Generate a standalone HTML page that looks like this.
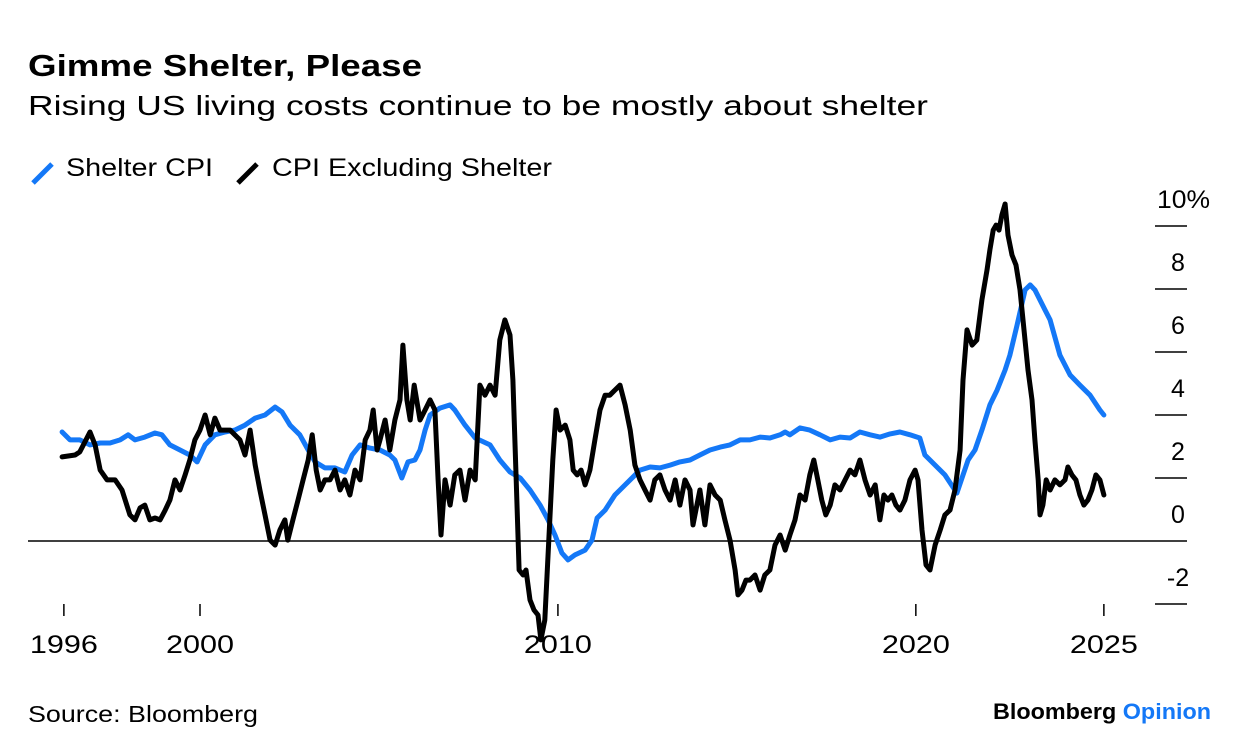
<!DOCTYPE html>
<html><head><meta charset="utf-8">
<style>
body{margin:0;background:#fff;font-family:"Liberation Sans",sans-serif;}
#wrap{position:relative;width:1240px;height:754px;overflow:hidden;}
</style></head>
<body>
<div id="wrap">
<svg id="svg" width="1240" height="754" style="font-family:'Liberation Sans',sans-serif">
<text x="28" y="76" font-size="31" font-weight="bold" fill="#000" textLength="394" lengthAdjust="spacingAndGlyphs">Gimme Shelter, Please</text>
<text x="28" y="115" font-size="28" fill="#000" textLength="900" lengthAdjust="spacingAndGlyphs">Rising US living costs continue to be mostly about shelter</text>
<g>
<line x1="33" y1="183" x2="52" y2="164" stroke="#1478f7" stroke-width="5"/>
<text x="66" y="176" font-size="25" textLength="147" lengthAdjust="spacingAndGlyphs">Shelter CPI</text>
<line x1="238" y1="183" x2="257" y2="164" stroke="#000" stroke-width="5"/>
<text x="272" y="176" font-size="25" textLength="280" lengthAdjust="spacingAndGlyphs">CPI Excluding Shelter</text>
</g>
<g id="axes"></g>
<g id="series"></g>
<text x="28" y="722" font-size="23" textLength="230" lengthAdjust="spacingAndGlyphs">Source: Bloomberg</text>
<text x="993" y="719" font-size="22" font-weight="bold" textLength="218" lengthAdjust="spacingAndGlyphs"><tspan fill="#000">Bloomberg </tspan><tspan fill="#1478f7">Opinion</tspan></text>
</svg>
</div>
<script>
const xTickLabels=["1996","2000","2010","2020","2025"];
const xTickDates=[1996.25,2000.0,2009.86,2019.72,2024.90];
const yTickValues=[-2,0,2,4,6,8,10];
const yTickLabels=["-2","0","2","4","6","8","10%"];
const exShelterYears=[1996.20,1996.56,1996.69,1996.97,1997.11,1997.25,1997.44,1997.66,1997.85,1998.07,1998.21,1998.35,1998.48,1998.62,1998.76,1998.90,1999.04,1999.17,1999.31,1999.45,1999.59,1999.72,1999.86,2000.00,2000.14,2000.28,2000.41,2000.55,2000.83,2001.10,2001.24,2001.38,2001.52,2001.65,2001.79,2001.93,2002.07,2002.20,2002.34,2002.42,2002.56,2002.70,2002.84,2002.98,2003.09,2003.20,2003.31,2003.44,2003.58,2003.72,2003.86,2003.99,2004.13,2004.27,2004.41,2004.55,2004.68,2004.77,2004.88,2004.96,2005.10,2005.23,2005.37,2005.51,2005.59,2005.70,2005.79,2005.90,2006.06,2006.20,2006.34,2006.47,2006.56,2006.64,2006.75,2006.89,2007.02,2007.16,2007.30,2007.44,2007.58,2007.71,2007.85,2007.99,2008.13,2008.26,2008.40,2008.54,2008.62,2008.71,2008.79,2008.90,2008.98,2009.09,2009.20,2009.31,2009.39,2009.50,2009.61,2009.72,2009.81,2009.92,2010.06,2010.19,2010.28,2010.39,2010.50,2010.61,2010.74,2010.88,2011.02,2011.16,2011.29,2011.43,2011.57,2011.71,2011.85,2011.98,2012.12,2012.26,2012.40,2012.53,2012.67,2012.81,2012.95,2013.09,2013.22,2013.36,2013.50,2013.58,2013.66,2013.77,2013.91,2014.05,2014.19,2014.33,2014.46,2014.60,2014.74,2014.82,2014.93,2015.04,2015.15,2015.29,2015.43,2015.56,2015.70,2015.84,2015.98,2016.12,2016.25,2016.39,2016.53,2016.67,2016.80,2016.91,2017.02,2017.13,2017.24,2017.36,2017.49,2017.63,2017.77,2017.91,2018.04,2018.18,2018.32,2018.46,2018.60,2018.73,2018.84,2018.95,2019.06,2019.17,2019.28,2019.42,2019.56,2019.70,2019.78,2019.89,2020.00,2020.11,2020.25,2020.39,2020.52,2020.66,2020.80,2020.94,2021.02,2021.13,2021.27,2021.40,2021.54,2021.68,2021.76,2021.85,2021.93,2022.01,2022.09,2022.18,2022.26,2022.37,2022.48,2022.59,2022.70,2022.81,2022.92,2023.00,2023.09,2023.14,2023.22,2023.31,2023.42,2023.55,2023.69,2023.83,2023.91,2024.02,2024.13,2024.24,2024.35,2024.46,2024.57,2024.68,2024.79,2024.90];
const exShelterValues=[2.67,2.73,2.83,3.46,3.05,2.25,1.94,1.94,1.62,0.83,0.67,1.05,1.14,0.67,0.73,0.67,0.98,1.30,1.94,1.62,2.10,2.57,3.21,3.52,4.00,3.37,3.90,3.52,3.52,3.21,2.73,3.52,2.41,1.62,0.83,0.03,-0.13,0.35,0.67,0.03,0.67,1.30,1.94,2.57,3.37,2.25,1.62,1.94,1.94,2.25,1.62,1.94,1.46,2.25,1.94,3.21,3.52,4.16,2.89,3.21,3.84,2.89,3.84,4.48,6.22,4.48,3.84,4.95,3.84,4.16,4.48,4.16,1.94,0.19,1.94,1.14,2.10,2.25,1.30,2.25,1.94,4.95,4.63,4.95,4.63,6.38,7.02,6.54,5.11,1.94,-0.92,-1.08,-0.92,-1.87,-2.19,-2.35,-3.14,-2.51,0.03,2.57,4.16,3.52,3.68,3.21,2.25,2.10,2.25,1.78,2.25,3.21,4.16,4.63,4.63,4.79,4.95,4.32,3.52,2.41,1.94,1.62,1.30,1.94,2.10,1.62,1.30,1.94,1.14,1.94,1.62,0.51,0.98,1.62,0.51,1.78,1.46,1.30,0.67,0.03,-0.92,-1.71,-1.56,-1.24,-1.24,-1.08,-1.56,-1.08,-0.92,-0.13,0.19,-0.29,0.19,0.67,1.46,1.30,2.10,2.57,1.94,1.30,0.83,1.14,1.78,1.62,1.94,2.25,2.10,2.57,1.94,1.46,1.78,0.67,1.46,1.30,1.46,1.14,0.98,1.30,1.94,2.25,1.94,0.35,-0.76,-0.92,-0.13,0.35,0.83,0.98,1.62,2.89,5.11,6.70,6.22,6.38,7.65,8.60,9.24,9.87,10.03,9.87,10.35,10.70,9.71,9.08,8.76,7.97,6.70,5.43,4.48,3.21,1.94,0.83,1.14,1.94,1.62,1.94,1.78,1.94,2.35,2.10,1.94,1.46,1.14,1.30,1.62,2.10,1.94,1.46];
const shelterYears=[1996.20,1996.42,1996.69,1996.97,1997.25,1997.52,1997.80,1998.02,1998.21,1998.48,1998.76,1998.95,1999.17,1999.45,1999.72,1999.92,2000.14,2000.41,2000.69,2000.96,2001.24,2001.52,2001.79,2002.07,2002.26,2002.48,2002.75,2002.98,2003.17,2003.44,2003.72,2003.99,2004.19,2004.41,2004.68,2004.96,2005.23,2005.37,2005.56,2005.73,2005.92,2006.06,2006.20,2006.34,2006.61,2006.89,2007.02,2007.30,2007.58,2007.99,2008.26,2008.54,2008.82,2009.09,2009.37,2009.59,2009.78,2009.97,2010.14,2010.33,2010.61,2010.80,2010.94,2011.16,2011.43,2011.71,2012.12,2012.40,2012.67,2012.95,2013.22,2013.50,2013.77,2014.05,2014.33,2014.60,2014.88,2015.15,2015.43,2015.70,2015.98,2016.12,2016.25,2016.53,2016.80,2017.08,2017.36,2017.63,2017.91,2018.18,2018.46,2018.73,2019.01,2019.28,2019.56,2019.83,2019.97,2020.25,2020.52,2020.85,2021.16,2021.35,2021.54,2021.76,2021.96,2022.18,2022.31,2022.51,2022.73,2022.87,2023.00,2023.28,2023.42,2023.69,2023.97,2024.24,2024.52,2024.79,2024.90];
const shelterValues=[3.46,3.21,3.21,3.05,3.11,3.11,3.21,3.37,3.21,3.30,3.43,3.37,3.05,2.89,2.73,2.51,3.05,3.37,3.46,3.52,3.68,3.90,4.00,4.25,4.10,3.68,3.37,2.89,2.51,2.32,2.32,2.19,2.73,3.05,2.95,2.89,2.73,2.57,2.00,2.51,2.57,2.89,3.52,4.00,4.22,4.32,4.16,3.68,3.27,3.05,2.57,2.19,2.00,1.62,1.14,0.67,0.19,-0.38,-0.60,-0.44,-0.29,0.03,0.73,0.98,1.46,1.78,2.25,2.35,2.32,2.41,2.51,2.57,2.73,2.89,2.98,3.05,3.21,3.21,3.30,3.27,3.37,3.46,3.37,3.59,3.52,3.37,3.21,3.30,3.27,3.46,3.37,3.30,3.40,3.46,3.37,3.27,2.73,2.41,2.10,1.52,2.57,2.89,3.52,4.32,4.79,5.43,5.90,6.86,7.97,8.13,7.97,7.33,7.02,5.90,5.27,4.95,4.63,4.16,4.00];

const NS="http://www.w3.org/2000/svg";
function xScale(yr){return 200+(yr-2000)*36.3;}
function yScale(v){return 541-v*31.5;}
const axes=document.getElementById('axes');
const series=document.getElementById('series');
function mk(tag,attrs,parent){const e=document.createElementNS(NS,tag);for(const k in attrs)e.setAttribute(k,attrs[k]);parent.appendChild(e);return e;}

yTickValues.forEach((v,i)=>{
  const y=yScale(v);
  if(v!==0){
    const t=mk('line',{x1:1155,x2:1187,y1:y,y2:y,stroke:'#000','stroke-width':1.5},axes);
    
    
  }
  const attrs=v===10?{x:1157,y:y-18,'font-size':25,'text-anchor':'start',textLength:53,lengthAdjust:'spacingAndGlyphs'}:{x:1178,y:y-18,'font-size':25,'text-anchor':'middle'};
  const lbl=mk('text',attrs,axes);
  lbl.textContent=yTickLabels[i];
  
  
});
const zero=mk('line',{x1:28,x2:1187,y1:yScale(0),y2:yScale(0),stroke:'#000','stroke-width':1.5},axes);



xTickDates.forEach((d,i)=>{
  const x=xScale(d);
  const t=mk('line',{x1:x,x2:x,y1:604,y2:616,stroke:'#000','stroke-width':1.5},axes);
  
  
  const l=mk('text',{x:x-34,y:653,'font-size':25,textLength:68,lengthAdjust:'spacingAndGlyphs'},axes);
  l.textContent=xTickLabels[i];
  
  
});

function path(xs,vs){return xs.map((yr,i)=>(i?'L':'M')+xScale(yr).toFixed(1)+','+yScale(vs[i]).toFixed(1)).join('');}
const pb=mk('path',{d:path(shelterYears,shelterValues),fill:'none',stroke:'#1478f7','stroke-width':5,'stroke-linejoin':'round','stroke-linecap':'round'},series);


const pk=mk('path',{d:path(exShelterYears,exShelterValues),fill:'none',stroke:'#000','stroke-width':5,'stroke-linejoin':'round','stroke-linecap':'round'},series);


</script>
</body></html>
